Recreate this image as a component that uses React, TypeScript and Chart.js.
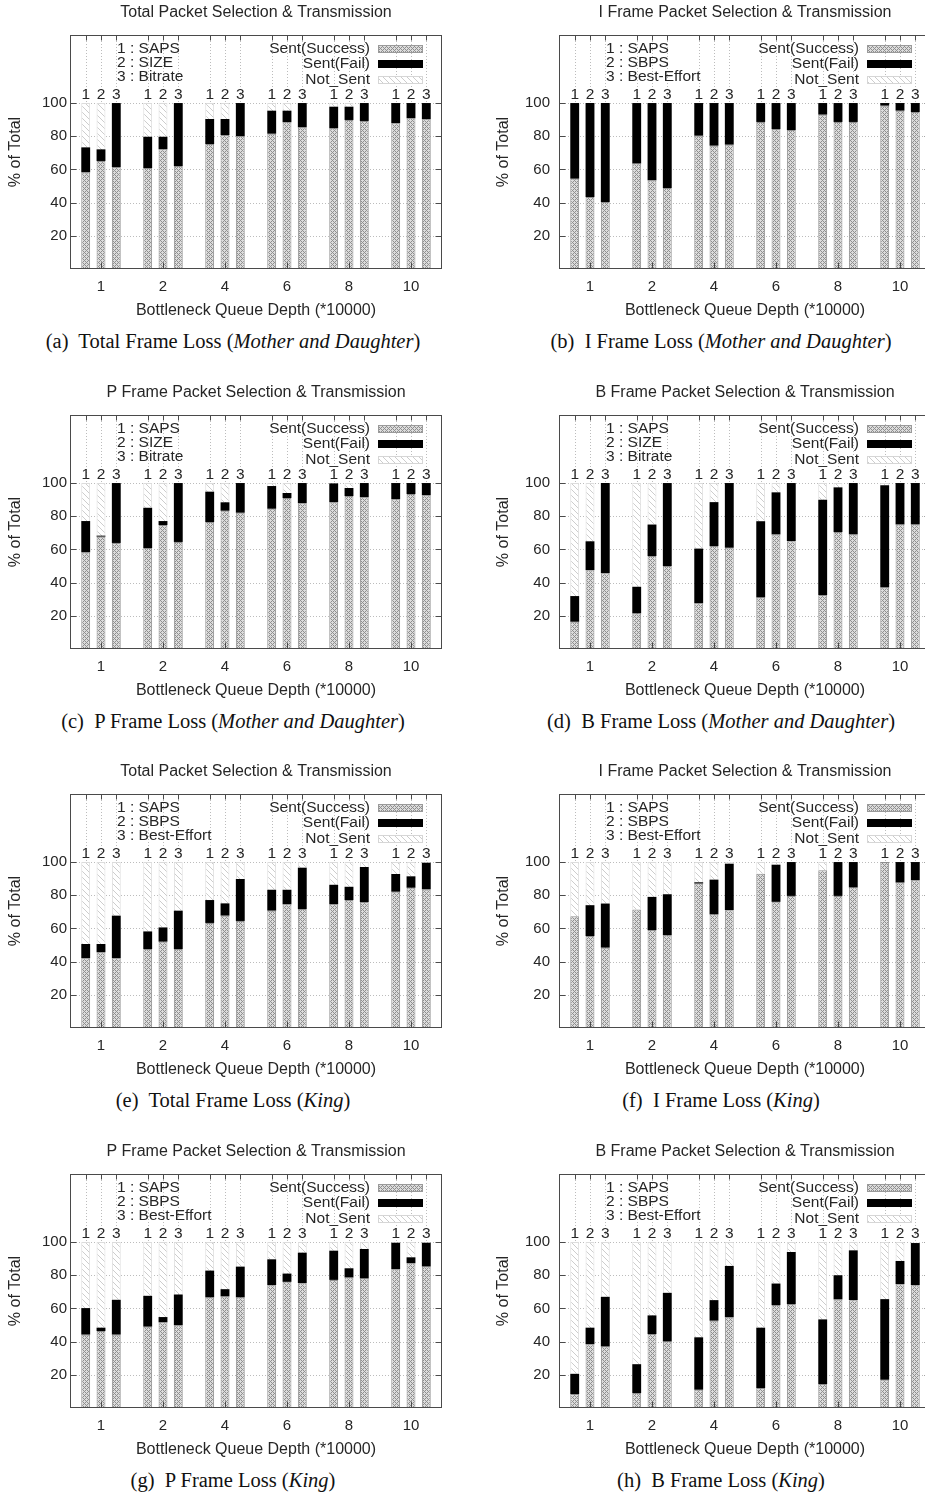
import React, { useEffect, useRef } from "react";
import { Chart, registerables } from "chart.js";
Chart.register(...registerables);

// ---------- data ----------
const GROUPS = ["1", "2", "4", "6", "8", "10"];
const X2_LABELS = ["1", "2", "3"];
const Y_GRID = [20, 40, 60, 80, 100];
const STATES = ["Sent(Success)", "Sent(Fail)", "Not_Sent"];
const ALGS_SIZE = ["1 : SAPS", "2 : SIZE", "3 : Bitrate"];
const ALGS_SBPS = ["1 : SAPS", "2 : SBPS", "3 : Best-Effort"];
const X_TITLE = "Bottleneck Queue Depth (*10000)";
const Y_TITLE = "% of Total";

// (a) Total, Mother and Daughter  — rows: algorithm 1,2,3 ; cols: GROUPS
const aSuccess = [[58.2, 60.8, 75.3, 81.5, 84.7, 87.8], [65.1, 72.1, 80.7, 88.4, 89.8, 90.8], [61.4, 62.0, 80.1, 85.3, 89.2, 90.2]];
const aFail = [[15.1, 18.9, 15.1, 13.9, 13.1, 12.2], [7.0, 7.6, 9.7, 7.0, 8.0, 9.2], [38.6, 38.0, 19.9, 14.7, 10.8, 9.8]];
// (b) I frame, Mother and Daughter
const bSuccess = [[54.4, 63.5, 80.3, 88.6, 93.0, 98.4], [43.4, 53.4, 74.3, 84.3, 88.6, 95.4], [40.4, 48.8, 74.9, 83.7, 88.6, 94.6]];
const bFail = [[45.6, 36.5, 19.7, 11.4, 7.0, 1.6], [56.6, 46.6, 25.7, 15.7, 11.4, 4.6], [59.6, 51.2, 25.1, 16.3, 11.4, 5.4]];
// (c) P frame, Mother and Daughter
const cSuccess = [[58.2, 60.8, 76.5, 84.5, 88.4, 90.2], [67.7, 74.7, 83.3, 91.0, 92.2, 93.4], [63.9, 64.5, 82.1, 87.8, 91.4, 92.6]];
const cFail = [[18.9, 24.3, 18.3, 13.7, 11.4, 9.8], [0.6, 2.4, 5.1, 3.0, 4.8, 6.6], [36.1, 35.5, 17.9, 12.2, 8.6, 7.4]];
// (d) B frame, Mother and Daughter
const dSuccess = [[16.4, 21.4, 27.5, 31.0, 32.5, 37.0], [47.5, 56.0, 62.0, 69.0, 70.5, 75.0], [45.7, 50.0, 61.0, 65.0, 69.0, 75.0]];
const dFail = [[15.5, 16.1, 33.0, 46.0, 57.5, 61.6], [17.4, 19.0, 26.5, 25.4, 26.9, 25.0], [54.3, 50.0, 39.0, 35.0, 31.0, 25.0]];
// (e) Total, King
const eSuccess = [[42.0, 47.6, 63.3, 70.7, 74.5, 82.1], [45.6, 52.0, 67.7, 74.5, 77.1, 84.5], [42.0, 47.6, 64.5, 71.7, 75.9, 83.5]];
const eFail = [[8.6, 10.6, 13.8, 12.6, 11.8, 10.7], [5.0, 8.6, 7.4, 8.8, 8.0, 6.9], [25.7, 23.1, 25.3, 24.9, 21.1, 16.1]];
// (f) I frame, King
const fSuccess = [[67.4, 71.4, 87.0, 93.0, 95.0, 100.0], [55.4, 59.0, 68.4, 76.0, 79.6, 87.6], [48.4, 55.8, 71.0, 79.6, 84.6, 89.0]];
const fFail = [[0, 0, 0.8, 0, 0, 0], [18.6, 20.0, 21.0, 22.4, 20.4, 12.4], [26.6, 24.8, 28.0, 20.4, 15.4, 11.0]];
// (g) P frame, King
const gSuccess = [[44.2, 49.0, 66.6, 74.0, 77.2, 83.6], [46.4, 51.6, 67.2, 76.0, 78.6, 87.2], [44.2, 49.8, 66.6, 75.2, 78.0, 85.2]];
const gFail = [[16.0, 18.6, 16.2, 15.6, 17.6, 16.0], [2.0, 3.2, 4.4, 5.0, 5.6, 3.6], [21.0, 18.6, 18.6, 18.4, 17.8, 14.4]];
// (h) B frame, King
const hSuccess = [[8.4, 9.0, 11.0, 12.0, 14.4, 17.0], [38.4, 44.6, 52.6, 62.0, 65.4, 74.6], [37.0, 40.0, 54.6, 62.6, 65.0, 74.0]];
const hFail = [[12.2, 17.4, 31.6, 36.4, 39.0, 48.6], [10.0, 11.2, 12.4, 13.0, 14.6, 14.0], [30.0, 29.4, 31.0, 31.4, 30.0, 25.4]];

const PANELS = [
  { id: "a", title: "Total Packet Selection & Transmission", caption: "Total", video: "Mother and Daughter", algs: ALGS_SIZE, success: aSuccess, fail: aFail },
  { id: "b", title: "I Frame Packet Selection & Transmission", caption: "I", video: "Mother and Daughter", algs: ALGS_SBPS, success: bSuccess, fail: bFail },
  { id: "c", title: "P Frame Packet Selection & Transmission", caption: "P", video: "Mother and Daughter", algs: ALGS_SIZE, success: cSuccess, fail: cFail },
  { id: "d", title: "B Frame Packet Selection & Transmission", caption: "B", video: "Mother and Daughter", algs: ALGS_SIZE, success: dSuccess, fail: dFail },
  { id: "e", title: "Total Packet Selection & Transmission", caption: "Total", video: "King", algs: ALGS_SBPS, success: eSuccess, fail: eFail },
  { id: "f", title: "I Frame Packet Selection & Transmission", caption: "I", video: "King", algs: ALGS_SBPS, success: fSuccess, fail: fFail },
  { id: "g", title: "P Frame Packet Selection & Transmission", caption: "P", video: "King", algs: ALGS_SBPS, success: gSuccess, fail: gFail },
  { id: "h", title: "B Frame Packet Selection & Transmission", caption: "B", video: "King", algs: ALGS_SBPS, success: hSuccess, fail: hFail },
];

// ---------- layout ----------
const ROW_TOPS = [0, 380, 759, 1139];
const SANS = '"Liberation Sans", Arial, sans-serif';
const TEXT = "#262626";
const CANVAS_H = 320;

function makeTile(kind: string): HTMLCanvasElement {
  const t = document.createElement("canvas");
  const n = kind === "s" ? 4 : 6;
  t.width = n;
  t.height = n;
  const c = t.getContext("2d")!;
  c.fillStyle = kind === "s" ? "#dcdcdc" : "#ffffff";
  c.fillRect(0, 0, n, n);
  for (let x = 0; x < n; x++) {
    for (let y = 0; y < n; y++) {
      if (kind === "s") {
        if ((x + y) % 4 === 0 || (x - y + 4) % 4 === 0) {
          c.fillStyle = "#8f8f8f";
          c.fillRect(x, y, 1, 1);
        }
      } else {
        if ((x - y + n) % n === 0) {
          c.fillStyle = "#cdcdcd";
          c.fillRect(x, y, 1, 1);
        }
      }
    }
  }
  return t;
}

function Panel({ cfg, index }: { cfg: any; index: number }) {
  const ref = useRef<HTMLCanvasElement>(null);
  const col = index % 2;
  const row = Math.floor(index / 2);
  const canvasLeft = col === 0 ? 0 : 462;
  const canvasW = col === 0 ? 462 : 472;
  const yAxisW = col === 0 ? 70 : 97;
  const padRight = col === 0 ? 20 : 3;

  useEffect(() => {
    const canvas = ref.current!;
    const c2 = canvas.getContext("2d")!;
    const succPat = c2.createPattern(makeTile("s"), "repeat")!;
    const notPat = c2.createPattern(makeTile("n"), "repeat")!;
    const notSent = cfg.success.map((r: number[], k: number) =>
      r.map((v: number, i: number) => Math.max(0, 100 - v - cfg.fail[k][i]))
    );
    const datasets: any[] = [];
    for (let k = 0; k < 3; k++) {
      datasets.push({ label: STATES[0] + k, data: cfg.success[k], stack: "s" + k, backgroundColor: succPat, borderColor: "#8e8e8e", borderWidth: 1 });
      datasets.push({ label: STATES[1] + k, data: cfg.fail[k], stack: "s" + k, backgroundColor: "#000000", borderWidth: 0 });
      datasets.push({ label: STATES[2] + k, data: notSent[k], stack: "s" + k, backgroundColor: notPat, borderColor: "#dcdcdc", borderWidth: 1 });
    }

    const barXs = (chart: any) => {
      const xs: { x: number; k: number }[] = [];
      for (let i = 0; i < GROUPS.length; i++)
        for (let k = 0; k < 3; k++) {
          const el = chart.getDatasetMeta(k * 3).data[i];
          if (el) xs.push({ x: el.x, k });
        }
      return xs;
    };

    const decor = {
      id: "decor",
      beforeDatasetsDraw(chart: any) {
        const { ctx, chartArea: a } = chart;
        const ys = chart.scales.y;
        ctx.save();
        ctx.strokeStyle = "#bcbcbc";
        ctx.lineWidth = 1;
        ctx.setLineDash([1, 2]);
        ctx.beginPath();
        for (const v of Y_GRID) {
          const py = Math.round(ys.getPixelForValue(v)) + 0.5;
          ctx.moveTo(a.left, py);
          ctx.lineTo(a.right, py);
        }
        for (const b of barXs(chart)) {
          const px = Math.round(b.x) + 0.5;
          ctx.moveTo(px, a.top);
          ctx.lineTo(px, a.bottom);
        }
        ctx.stroke();
        ctx.restore();
      },
      afterDatasetsDraw(chart: any) {
        const { ctx, chartArea: a } = chart;
        const ys = chart.scales.y;
        const xs = chart.scales.x;
        const L = Math.round(a.left) + 0.5;
        const R = Math.round(a.right) - 0.5;
        const T = Math.round(a.top) + 0.5;
        const B = Math.round(a.bottom) - 0.5;
        ctx.save();
        // frame
        ctx.strokeStyle = "#4a4a4a";
        ctx.lineWidth = 1;
        ctx.strokeRect(L, T, R - L, B - T);
        // ticks
        ctx.beginPath();
        for (const v of Y_GRID) {
          const py = Math.round(ys.getPixelForValue(v)) + 0.5;
          ctx.moveTo(L, py);
          ctx.lineTo(L + 6, py);
          ctx.moveTo(R, py);
          ctx.lineTo(R - 6, py);
        }
        for (let i = 0; i < GROUPS.length; i++) {
          const px = Math.round(xs.getPixelForValue(i)) + 0.5;
          ctx.moveTo(px, B);
          ctx.lineTo(px, B - 6);
        }
        const bx = barXs(chart);
        for (const b of bx) {
          const px = Math.round(b.x) + 0.5;
          ctx.moveTo(px, T);
          ctx.lineTo(px, T + 5);
        }
        ctx.stroke();

        // x2 labels above the 100 line
        ctx.fillStyle = TEXT;
        ctx.font = "15.5px " + SANS;
        ctx.textAlign = "center";
        ctx.textBaseline = "middle";
        const y100 = ys.getPixelForValue(100);
        for (const b of bx) ctx.fillText(X2_LABELS[b.k], b.x, y100 - 8);

        // algorithm key (left)
        ctx.textAlign = "left";
        const algRows = [14, 28, 42];
        cfg.algs.forEach((t: string, i: number) => ctx.fillText(t, a.left + 47, a.top + algRows[i]));

        // state legend (right)
        const stRows = [14, 29, 45];
        ctx.textAlign = "right";
        const fills = [succPat, "#000000", notPat];
        const borders = ["#9a9a9a", "#000000", "#d6d6d6"];
        STATES.forEach((t, i) => {
          const cy = a.top + stRows[i];
          ctx.fillStyle = TEXT;
          ctx.fillText(t, a.right - 72, cy);
          const sx = Math.round(a.right - 64);
          const sy = Math.round(cy - 4);
          ctx.fillStyle = fills[i] as any;
          ctx.fillRect(sx, sy, 45, 8);
          ctx.strokeStyle = borders[i];
          ctx.strokeRect(sx + 0.5, sy + 0.5, 44, 7);
        });

        // title
        ctx.fillStyle = TEXT;
        ctx.textAlign = "center";
        ctx.font = "16px " + SANS;
        ctx.fillText(cfg.title, (a.left + a.right) / 2, 13);
        ctx.restore();
      },
    };

    const chart = new Chart(canvas, {
      type: "bar",
      data: { labels: GROUPS, datasets },
      options: {
        responsive: false,
        animation: false,
        devicePixelRatio: 1,
        categoryPercentage: 0.74,
        barPercentage: 0.58,
        layout: { padding: { top: 35, left: 0, right: padRight, bottom: 0 } },
        plugins: { legend: { display: false }, title: { display: false }, tooltip: { enabled: false } },
        scales: {
          x: {
            stacked: true,
            grid: { display: false, drawTicks: false },
            border: { display: false },
            ticks: { color: TEXT, font: { size: 15, family: SANS }, padding: 9, maxRotation: 0 },
            title: { display: true, text: X_TITLE, color: TEXT, font: { size: 16, family: SANS }, padding: { top: 0, bottom: 0 } },
            afterFit: (s: any) => {
              s.height = 51;
            },
          },
          y: {
            stacked: true,
            min: 0,
            max: 141,
            grid: { display: false, drawTicks: false },
            border: { display: false },
            ticks: {
              stepSize: 20,
              color: TEXT,
              font: { size: 15, family: SANS },
              padding: col === 0 ? 3 : 9,
              callback: (v: any) => (Y_GRID.includes(Number(v)) ? String(v) : ""),
            },
            title: { display: true, text: Y_TITLE, color: TEXT, font: { size: 16, family: SANS }, padding: { top: col === 0 ? 6 : 32, bottom: 0 } },
            afterFit: (s: any) => {
              s.width = yAxisW;
            },
          },
        },
      } as any,
      plugins: [decor],
    });
    return () => chart.destroy();
  }, []);

  const top = ROW_TOPS[row];
  const capX = col === 0 ? 233 : 721;
  return (
    <>
      <canvas
        ref={ref}
        width={canvasW}
        height={CANVAS_H}
        style={{ position: "absolute", left: canvasLeft, top, width: canvasW, height: CANVAS_H }}
      />
      <div
        style={{
          position: "absolute",
          left: capX,
          top: top + 341,
          transform: "translate(-50%, -50%)",
          whiteSpace: "nowrap",
          font: '20.5px "Liberation Serif", "Times New Roman", serif',
          color: "#111",
          lineHeight: "24px",
        }}
      >
        ({cfg.id})&nbsp; {cfg.caption} Frame Loss (<i>{cfg.video}</i>)
      </div>
    </>
  );
}

export default function App() {
  return (
    <div
      style={{
        position: "absolute",
        left: 0,
        top: 0,
        width: 925,
        height: 1494,
        overflow: "hidden",
        background: "#ffffff",
      }}
    >
      {PANELS.map((p, i) => (
        <Panel key={p.id} cfg={p} index={i} />
      ))}
    </div>
  );
}
